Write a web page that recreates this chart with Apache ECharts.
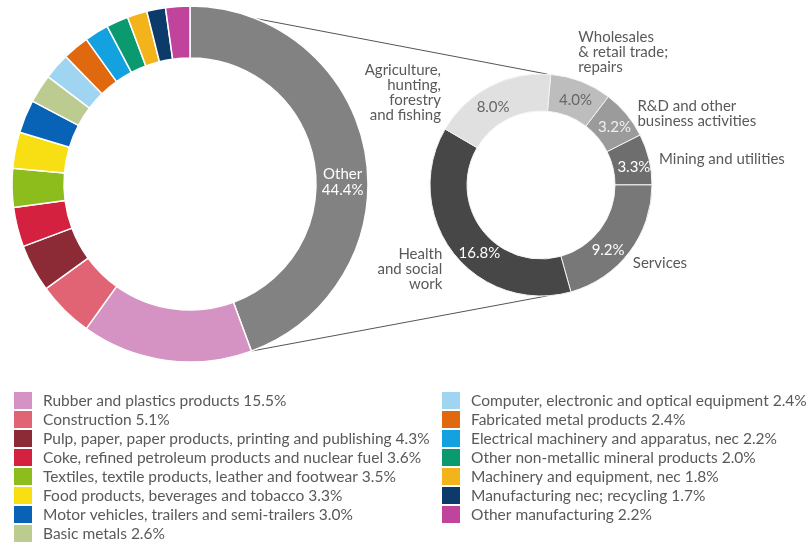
<!DOCTYPE html>
<html>
<head>
<meta charset="utf-8">
<script src="https://cdn.jsdelivr.net/npm/echarts@6/dist/echarts.min.js"></script>
<style>
html,body{margin:0;padding:0;background:#fff;}
#chart{width:810px;height:544px;}
</style>
</head>
<body>
<div id="chart"></div>
<script>
// ---- Data ----
var mainNames = [
  'Other',
  'Rubber and plastics products',
  'Construction',
  'Pulp, paper, paper products, printing and publishing',
  'Coke, refined petroleum products and nuclear fuel',
  'Textiles, textile products, leather and footwear',
  'Food products, beverages and tobacco',
  'Motor vehicles, trailers and semi-trailers',
  'Basic metals',
  'Computer, electronic and optical equipment',
  'Fabricated metal products',
  'Electrical machinery and apparatus, nec',
  'Other non-metallic mineral products',
  'Machinery and equipment, nec',
  'Manufacturing nec; recycling',
  'Other manufacturing'
];
var mainValues = [44.4, 15.5, 5.1, 4.3, 3.6, 3.5, 3.3, 3.0, 2.6, 2.4, 2.4, 2.2, 2.0, 1.8, 1.7, 2.2];
var mainColors = ['#828282', '#d593c3', '#e06473', '#8c2a35', '#d3213f', '#8dbd1c', '#f8df14', '#0862b6', '#bccb8f',
                  '#9fd5f1', '#e0690f', '#13a1df', '#0b9a6f', '#f2b31b', '#0c3b6b', '#c1449c'];

var subNames = [
  'Wholesales\n& retail trade;\nrepairs',
  'R&D and other\nbusiness activities',
  'Mining and utilities',
  'Services',
  'Health\nand social\nwork',
  'Agriculture,\nhunting,\nforestry\nand fishing'
];
var subValues = [4.0, 3.2, 3.3, 9.2, 16.8, 8.0];
var subColors = ['#bdbdbd', '#9b9b9b', '#6e6e6e', '#787878', '#474747', '#e0e0e0'];
var subPctColors = ['#666666', '#f0f0f0', '#ffffff', '#ffffff', '#ffffff', '#666666'];

var legendLeft = mainNames.slice(1, 9);
var legendRight = mainNames.slice(9);

// ---- Layout / style ----
var FONT = 'Lato';
var TXT = '#595959';
var bigC = [190, 184], bigR = [126, 178];
var subC = [541, 185], subR = [74, 111];
var subStart = 85;
// label tweaks for small pie outer labels: [length, length2, dx, dy]
var subLbl = [[31, 0, -19, 0], [0, 6, 0, 0], [0, 5, 0, 0], [8, 0, -8, 6], [15, 0, 6, 7], [0, 44, 0, 6]];
// nudges for percentage labels inside small pie: [dx, dy]
var subPctNudge = [[0, 4], [0, 3], [0, 4], [-9, 7], [14, 10], [-4, 7]];

var valueOf = {};
mainNames.forEach(function (n, i) { valueOf[n] = mainValues[i]; });

var mainData = mainNames.map(function (n, i) {
  return { name: n, value: mainValues[i], itemStyle: { color: mainColors[i] },
           label: { show: i === 0 } };
});

var subPctData = subNames.map(function (n, i) {
  return { name: n, value: subValues[i], itemStyle: { color: subColors[i] },
           label: { color: subPctColors[i] } };
});
var subNameData = subNames.map(function (n, i) {
  return { name: n, value: subValues[i],
           labelLine: { show: false, length: subLbl[i][0], length2: subLbl[i][1] } };
});

// connector lines from big pie "Other" slice edges to small pie top/bottom
var total = mainValues.reduce(function (a, b) { return a + b; }, 0);
var otherEndAng = mainValues[0] / total * 2 * Math.PI; // clockwise from top
function pt(c, r, a) { return [c[0] + r * Math.sin(a), c[1] - r * Math.cos(a)]; }
var p1 = pt(bigC, bigR[1], 0), p2 = pt(subC, subR[1], 0.06);
var p3 = pt(bigC, bigR[1], otherEndAng), p4 = pt(subC, subR[1], Math.PI - 0.06);

var legendCommon = {
  orient: 'vertical', icon: 'rect', itemWidth: 20, itemHeight: 19, itemGap: -2, padding: 0,
  selectedMode: false, height: 200,
  textStyle: { fontFamily: FONT, fontSize: 15.5, color: TXT, padding: [0, 0, 0, 5] },
  formatter: function (n) { return n + ' ' + valueOf[n].toFixed(1) + '%'; }
};

var option = {
  animation: false,
  backgroundColor: '#ffffff',
  legend: [
    Object.assign({ left: 12, top: 390, width: 420, data: legendLeft }, legendCommon),
    Object.assign({ left: 440, top: 390, width: 370, data: legendRight }, legendCommon)
  ],
  graphic: [
    { type: 'line', shape: { x1: p1[0], y1: p1[1], x2: p2[0], y2: p2[1] }, style: { stroke: '#555', lineWidth: 1 }, z: 0 },
    { type: 'line', shape: { x1: p3[0], y1: p3[1], x2: p4[0], y2: p4[1] }, style: { stroke: '#555', lineWidth: 1 }, z: 0 }
  ],
  series: [
    {
      type: 'pie', center: bigC, radius: bigR, startAngle: 90, clockwise: true,
      avoidLabelOverlap: false, silent: true,
      itemStyle: { borderColor: '#ffffff', borderWidth: 1.5 },
      label: { position: 'inside', formatter: '{b}\n{c}%', color: '#ffffff', fontFamily: FONT, fontSize: 15, lineHeight: 16 },
      labelLine: { show: false },
      labelLayout: function (p) { return p.dataIndex === 0 ? { dy: 25 } : {}; },
      data: mainData, z: 2
    },
    {
      type: 'pie', center: subC, radius: subR, startAngle: subStart, clockwise: true,
      avoidLabelOverlap: false, silent: true,
      itemStyle: { borderColor: '#f4f4f4', borderWidth: 1 },
      label: { position: 'inside', formatter: function (p) { return p.value.toFixed(1) + '%'; }, fontFamily: FONT, fontSize: 15 },
      labelLine: { show: false },
      labelLayout: function (p) { var t = subPctNudge[p.dataIndex]; return { dx: t[0], dy: t[1] }; },
      data: subPctData, z: 2
    },
    {
      type: 'pie', center: subC, radius: subR, startAngle: subStart, clockwise: true,
      avoidLabelOverlap: false, silent: true,
      itemStyle: { color: 'rgba(0,0,0,0)' },
      label: { position: 'outside', formatter: '{b}', color: TXT, fontFamily: FONT, fontSize: 15, lineHeight: 15 },
      labelLine: { show: false },
      labelLayout: function (p) { var t = subLbl[p.dataIndex]; return { dx: t[2], dy: t[3] }; },
      data: subNameData, z: 3
    }
  ]
};

var chart = echarts.init(document.getElementById('chart'), null, { renderer: 'canvas' });
chart.setOption(option);
</script>
</body>
</html>
